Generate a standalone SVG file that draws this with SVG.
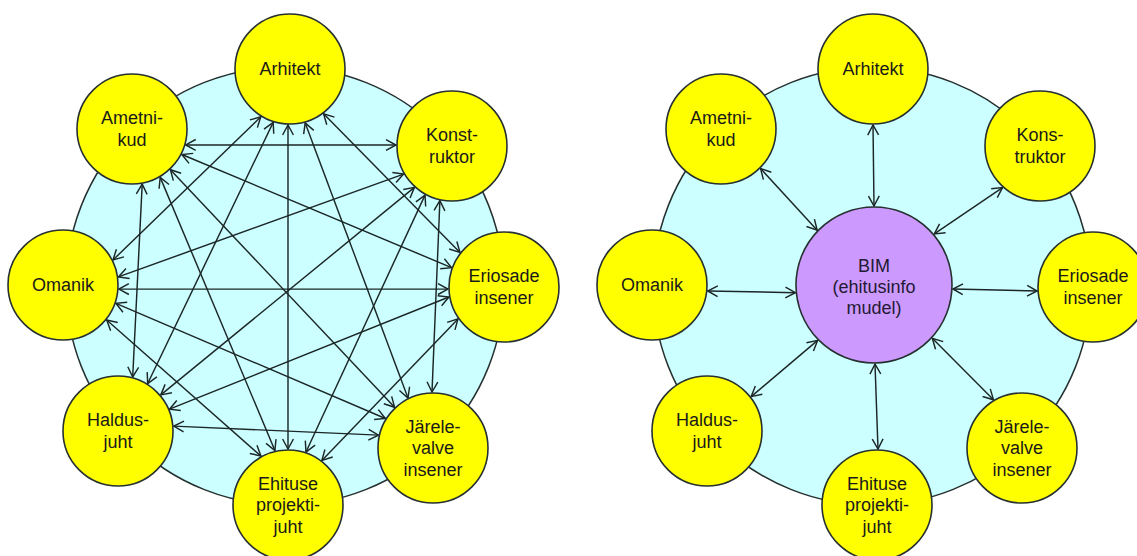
<svg xmlns="http://www.w3.org/2000/svg" width="1137" height="556" viewBox="0 0 1137 556">
  <style>
    .ring { fill: #ccffff; stroke: #263030; stroke-width: 1.5; }
    .node circle { fill: #ffff00; stroke: #263030; stroke-width: 1.6; }
    .hub circle { fill: #cc99ff; stroke: #263030; stroke-width: 1.6; }
    text { font-family: "Liberation Sans", Arial, sans-serif; font-size: 18px; fill: #1a1a1a; text-anchor: middle; }
    .hub text { fill: #231a33; }
    .link { fill: none; stroke: #1c2626; stroke-width: 1.45; marker-start: url(#tip); marker-end: url(#tip); }
  </style>
  <defs>
    <marker id="tip" viewBox="-12 -8 14 16" refX="0" refY="0" markerWidth="14" markerHeight="16" markerUnits="userSpaceOnUse" orient="auto-start-reverse">
      <path d="M-10,-5.4 L0,0 L-10,5.4" fill="none" stroke="#1c2626" stroke-width="1.45"/>
    </marker>
  </defs>

  <rect width="1137" height="556" fill="#ffffff"/>

  <!-- background rings -->
  <circle class="ring" cx="285" cy="286" r="219"/>
  <circle class="ring" cx="872" cy="286" r="219"/>

  <!-- connectors -->
  <g id="connectors">
    <!-- every party linked with every other -->
    <line class="link" x1="185.7" y1="144.9" x2="396" y2="145"/>
    <line class="link" x1="181.9" y1="154.5" x2="451.5" y2="267.6"/>
    <line class="link" x1="170.4" y1="169.7" x2="394.6" y2="407.3"/>
    <line class="link" x1="160.2" y1="177.4" x2="274.9" y2="450.5"/>
    <line class="link" x1="142.2" y1="184.1" x2="132.7" y2="377"/>
    <line class="link" x1="113" y1="260" x2="260.8" y2="116.8"/>
    <line class="link" x1="118.4" y1="276.9" x2="403.6" y2="174.1"/>
    <line class="link" x1="118.9" y1="289.1" x2="448" y2="289.1"/>
    <line class="link" x1="115.9" y1="303.3" x2="385.4" y2="418.5"/>
    <line class="link" x1="106.7" y1="320" x2="260.9" y2="456"/>
    <line class="link" x1="147.7" y1="383.5" x2="273.2" y2="122.4"/>
    <line class="link" x1="160.8" y1="394.9" x2="414.4" y2="187.4"/>
    <line class="link" x1="169.5" y1="409.2" x2="448.9" y2="297"/>
    <line class="link" x1="173.8" y1="426.1" x2="378.5" y2="435.1"/>
    <line class="link" x1="288" y1="449" x2="288" y2="125"/>
    <line class="link" x1="306" y1="452" x2="425" y2="195.1"/>
    <line class="link" x1="321.9" y1="460.4" x2="458" y2="318.9"/>
    <line class="link" x1="408" y1="398" x2="305.2" y2="122.9"/>
    <line class="link" x1="432" y1="392" x2="439.9" y2="200.6"/>
    <line class="link" x1="460" y1="252.4" x2="323.6" y2="113.8"/>
    <!-- every party linked through the shared model -->
    <line class="link" x1="873" y1="125" x2="874" y2="206"/>
    <line class="link" x1="1002.5" y1="187.6" x2="934.3" y2="233.9"/>
    <line class="link" x1="1037.1" y1="291" x2="952.9" y2="289"/>
    <line class="link" x1="993.5" y1="399.8" x2="932.3" y2="338.3"/>
    <line class="link" x1="878" y1="449" x2="875" y2="364"/>
    <line class="link" x1="751.2" y1="396.6" x2="817.6" y2="340.4"/>
    <line class="link" x1="707.7" y1="291" x2="795.4" y2="292.7"/>
    <line class="link" x1="760.6" y1="168.6" x2="817.2" y2="230.2"/>
  </g>

  <!-- left network -->
  <g id="l-arhitekt" class="node"><circle cx="290" cy="69" r="55"/><text x="290" y="75">Arhitekt</text></g>
  <g id="l-konstruktor" class="node"><circle cx="452" cy="146" r="55"/><text x="452" y="141">Konst-</text><text x="452" y="163">ruktor</text></g>
  <g id="l-eriosade" class="node"><circle cx="504" cy="287" r="55"/><text x="504" y="282">Eriosade</text><text x="504" y="304">insener</text></g>
  <g id="l-jarelevalve" class="node"><circle cx="433" cy="448" r="55"/><text x="433" y="432.5">Järele-</text><text x="433" y="454">valve</text><text x="433" y="475.5">insener</text></g>
  <g id="l-ehituse" class="node"><circle cx="288" cy="505" r="55"/><text x="288" y="489.5">Ehituse</text><text x="288" y="511">projekti-</text><text x="288" y="532.5">juht</text></g>
  <g id="l-haldusjuht" class="node"><circle cx="118" cy="431" r="55"/><text x="118" y="426">Haldus-</text><text x="118" y="448">juht</text></g>
  <g id="l-omanik" class="node"><circle cx="63" cy="285" r="55"/><text x="63" y="291">Omanik</text></g>
  <g id="l-ametnikud" class="node"><circle cx="132" cy="129" r="55"/><text x="132" y="124">Ametni-</text><text x="132" y="146">kud</text></g>

  <!-- right network -->
  <g id="r-bim" class="hub"><circle cx="874" cy="285" r="78"/><text x="874" y="271.5">BIM</text><text x="874" y="292.5">(ehitusinfo</text><text x="874" y="313.5">mudel)</text></g>
  <g id="r-arhitekt" class="node"><circle cx="873" cy="69" r="55"/><text x="873" y="75">Arhitekt</text></g>
  <g id="r-konstruktor" class="node"><circle cx="1040" cy="146" r="55"/><text x="1040" y="141">Kons-</text><text x="1040" y="163">truktor</text></g>
  <g id="r-eriosade" class="node"><circle cx="1093" cy="287" r="55"/><text x="1093" y="282">Eriosade</text><text x="1093" y="304">insener</text></g>
  <g id="r-jarelevalve" class="node"><circle cx="1022" cy="448" r="55"/><text x="1022" y="432.5">Järele-</text><text x="1022" y="454">valve</text><text x="1022" y="475.5">insener</text></g>
  <g id="r-ehituse" class="node"><circle cx="877" cy="505" r="55"/><text x="877" y="489.5">Ehituse</text><text x="877" y="511">projekti-</text><text x="877" y="532.5">juht</text></g>
  <g id="r-haldusjuht" class="node"><circle cx="707" cy="431" r="55"/><text x="707" y="426">Haldus-</text><text x="707" y="448">juht</text></g>
  <g id="r-omanik" class="node"><circle cx="652" cy="285" r="55"/><text x="652" y="291">Omanik</text></g>
  <g id="r-ametnikud" class="node"><circle cx="721" cy="129" r="55"/><text x="721" y="124">Ametni-</text><text x="721" y="146">kud</text></g>
</svg>
